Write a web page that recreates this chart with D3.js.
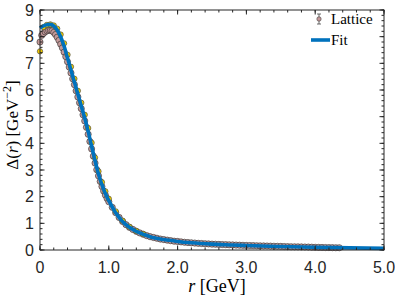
<!DOCTYPE html>
<html><head><meta charset="utf-8">
<script src="https://cdn.jsdelivr.net/npm/d3@7"></script>
<style>body{margin:0;background:#fff}svg{display:block}</style>
</head><body>
<script>
// ---- data ----
const xTicks = [0, 1, 2, 3, 4, 5];
const xTickLabels = ["0", "1.0", "2.0", "3.0", "4.0", "5.0"];
const yTicks = [0, 1, 2, 3, 4, 5, 6, 7, 8, 9];
const legendLabels = ["Lattice", "Fit"];

// lattice points [r, value, error]
const latticeA = [
 [0.000,7.80,0.12],[0.025,8.05,0.10],[0.050,8.12,0.10],[0.075,8.18,0.09],[0.100,8.22,0.09],
 [0.125,8.24,0.08],[0.150,8.24,0.08],[0.175,8.22,0.08],[0.200,8.16,0.08],[0.225,8.08,0.07],
 [0.250,7.98,0.07],[0.275,7.86,0.07],[0.300,7.72,0.07],[0.325,7.58,0.06],[0.350,7.42,0.06],
 [0.375,7.25,0.06],[0.400,7.06,0.06],[0.425,6.86,0.06],[0.450,6.64,0.05],[0.475,6.42,0.05],
 [0.500,6.20,0.05],[0.525,5.97,0.05],[0.550,5.74,0.05],[0.575,5.52,0.05],[0.600,5.30,0.05],
 [0.625,5.07,0.04],[0.650,4.84,0.04],[0.675,4.60,0.04],[0.700,4.34,0.04],[0.725,4.07,0.04],
 [0.750,3.79,0.04],[0.775,3.52,0.04],[0.800,3.26,0.03],[0.825,3.01,0.03],[0.850,2.78,0.03],
 [0.875,2.57,0.03],[0.900,2.38,0.03],[0.925,2.21,0.03],[0.950,2.06,0.03],[0.975,1.93,0.03],
 [1.000,1.81,0.03],[1.050,1.60,0.03],[1.100,1.40,0.03],[1.150,1.22,0.03],[1.200,1.07,0.03],
 [1.250,0.95,0.03],[1.300,0.85,0.03],[1.350,0.77,0.03],[1.400,0.70,0.03],[1.450,0.64,0.03],
 [1.500,0.59,0.03],[1.550,0.54,0.03],[1.600,0.50,0.03],[1.650,0.47,0.03],[1.700,0.44,0.03],
 [1.750,0.41,0.03],[1.800,0.39,0.03],[1.850,0.37,0.03],[1.900,0.35,0.03],[1.950,0.33,0.03],
 [2.000,0.32,0.03],[2.050,0.305,0.03],[2.100,0.29,0.03],[2.150,0.28,0.03],[2.200,0.27,0.03],
 [2.250,0.26,0.03],[2.300,0.25,0.03],[2.350,0.243,0.03],[2.400,0.235,0.03],[2.450,0.228,0.03],
 [2.500,0.22,0.03],[2.550,0.215,0.03],[2.600,0.21,0.03],[2.650,0.205,0.03],[2.700,0.20,0.03],
 [2.750,0.195,0.03],[2.800,0.19,0.03],[2.850,0.185,0.03],[2.900,0.18,0.03],[2.950,0.175,0.03],
 [3.000,0.17,0.03],[3.050,0.168,0.03],[3.100,0.165,0.03],[3.150,0.16,0.03],[3.200,0.155,0.03],
 [3.250,0.152,0.03],[3.300,0.15,0.03],[3.350,0.145,0.03],[3.400,0.14,0.03],[3.450,0.138,0.03],
 [3.500,0.135,0.03],[3.550,0.13,0.03],[3.600,0.125,0.03],[3.650,0.122,0.03],[3.700,0.12,0.03],
 [3.750,0.118,0.03],[3.800,0.115,0.03],[3.850,0.112,0.03],[3.900,0.11,0.03],[3.950,0.105,0.03],
 [4.000,0.10,0.03],[4.050,0.098,0.03],[4.100,0.095,0.03],[4.150,0.092,0.03],[4.200,0.09,0.03],
 [4.250,0.088,0.03],[4.300,0.085,0.03],[4.350,0.085,0.03]
];
// second lattice set (yellow)
const latticeB = [
 [0.00,7.45],[0.05,8.36],[0.10,8.44],[0.15,8.46],[0.20,8.42],[0.25,8.30],[0.30,8.08],
 [0.35,7.75],[0.40,7.32],[0.45,6.87],[0.50,6.42],[0.55,5.97],[0.60,5.52],[0.65,5.07],
 [0.70,4.57],[0.75,4.02],[0.80,3.46],[0.85,2.95],[0.90,2.54],[0.95,2.20],[1.00,1.92],
 [1.10,1.45],[1.20,1.10],[1.30,0.87],[1.40,0.71],[1.50,0.60]
];
// fit curve samples
const fitR = [0,0.05,0.1,0.15,0.2,0.25,0.3,0.35,0.4,0.45,0.5,0.55,0.6,0.65,0.7,0.75,0.8,0.85,0.9,0.95,1.0,1.1,1.2,1.3,1.4,1.5,1.6,1.8,2.0,2.2,2.5,2.8,3.0,3.5,4.0,4.5,5.0];
const fitV = [8.32,8.40,8.45,8.46,8.40,8.25,8.00,7.65,7.20,6.75,6.30,5.85,5.40,4.95,4.45,3.90,3.35,2.85,2.45,2.12,1.85,1.40,1.07,0.85,0.70,0.59,0.50,0.39,0.32,0.27,0.22,0.19,0.17,0.13,0.10,0.08,0.06];

// ---- drawing ----
const W = 395, H = 299;
const L = 40, R = 384, T = 10, B = 250;
const svg = d3.select("body").append("svg").attr("width", W).attr("height", H);
const x = d3.scaleLinear().domain([0, 5]).range([L, R]);
const y = d3.scaleLinear().domain([0, 9]).range([B, T]);
const txt = "#262626";

// error bars + markers (set A)
const gA = svg.append("g");
gA.selectAll("line.eb").data(latticeA).join("line")
  .attr("x1", d => x(d[0])).attr("x2", d => x(d[0]))
  .attr("y1", d => y(d[1] - d[2])).attr("y2", d => y(d[1] + d[2]))
  .attr("stroke", "#444").attr("stroke-width", 0.8);
gA.selectAll("circle").data(latticeA).join("circle")
  .attr("cx", d => x(d[0])).attr("cy", d => y(d[1])).attr("r", 3.1)
  .attr("fill", "#c49a9a").attr("stroke", "#2a2a2a").attr("stroke-width", 0.6);

const gB = svg.append("g");
gB.selectAll("circle").data(latticeB).join("circle")
  .attr("cx", d => x(d[0])).attr("cy", d => y(d[1])).attr("r", 2.7)
  .attr("fill", "#f2cc00").attr("stroke", "#3a3a3a").attr("stroke-width", 0.6);

// fit line
const line = d3.line().x(d => x(d[0])).y(d => y(d[1])).curve(d3.curveMonotoneX);
svg.append("path").datum(fitR.map((r, i) => [r, fitV[i]]))
  .attr("d", line).attr("fill", "none").attr("stroke", "#0072BD").attr("stroke-width", 3.6);

// axes box
const ax = svg.append("g");
ax.append("rect").attr("x", L).attr("y", T).attr("width", R - L).attr("height", B - T)
  .attr("fill", "none").attr("stroke", "#262626").attr("stroke-width", 1);

// minor + major ticks (inward, all four sides)
const xMinor = d3.range(0, 5.001, 0.2);
const yMinor = d3.range(0, 9.001, 0.2);
function tickSet(vals, len, isX) {
  vals.forEach(v => {
    if (isX) {
      const px = x(v);
      ax.append("line").attr("x1", px).attr("x2", px).attr("y1", B).attr("y2", B - len).attr("stroke", txt);
      ax.append("line").attr("x1", px).attr("x2", px).attr("y1", T).attr("y2", T + len).attr("stroke", txt);
    } else {
      const py = y(v);
      ax.append("line").attr("y1", py).attr("y2", py).attr("x1", L).attr("x2", L + len).attr("stroke", txt);
      ax.append("line").attr("y1", py).attr("y2", py).attr("x1", R).attr("x2", R - len).attr("stroke", txt);
    }
  });
}
tickSet(xMinor, 2.5, true);
tickSet(yMinor, 2.5, false);
tickSet(xTicks, 4.5, true);
tickSet(yTicks, 4.5, false);

// tick labels
const sans = "'Liberation Sans', Arial, sans-serif";
svg.append("g").selectAll("text").data(xTicks).join("text")
  .attr("x", d => x(d)).attr("y", B + 23).attr("text-anchor", "middle")
  .attr("font-family", sans).attr("font-size", 16).attr("fill", txt)
  .text((d, i) => xTickLabels[i]);
svg.append("g").selectAll("text").data(yTicks).join("text")
  .attr("x", L - 6).attr("y", d => y(d)).attr("dy", "0.36em").attr("text-anchor", "end")
  .attr("font-family", sans).attr("font-size", 16).attr("fill", txt)
  .text(d => d);

// axis titles (LaTeX-like serif)
const serif = "'Liberation Serif', 'DejaVu Serif', serif";
const xt = svg.append("text").attr("x", 217).attr("y", 292).attr("text-anchor", "middle")
  .attr("font-family", serif).attr("font-size", 18).attr("fill", "#000");
xt.append("tspan").attr("font-style", "italic").text("r");
xt.append("tspan").text(" [GeV]");

const yt = svg.append("text").attr("transform", `translate(18,125) rotate(-90)`)
  .attr("text-anchor", "middle").attr("font-family", serif).attr("font-size", 17).attr("fill", "#000");
yt.append("tspan").text("Δ(");
yt.append("tspan").attr("font-style", "italic").text("r");
yt.append("tspan").text(") [GeV");
yt.append("tspan").attr("font-size", 12).attr("dy", -7).text("−2");
yt.append("tspan").attr("dy", 7).text("]");

// legend
const lg = svg.append("g");
const ly1 = 19, ly2 = 40;
lg.append("line").attr("x1", 319).attr("x2", 319).attr("y1", ly1 - 5).attr("y2", ly1 + 5).attr("stroke", "#444").attr("stroke-width", 0.8);
lg.append("line").attr("x1", 317).attr("x2", 321).attr("y1", ly1 - 5).attr("y2", ly1 - 5).attr("stroke", "#444").attr("stroke-width", 0.8);
lg.append("line").attr("x1", 317).attr("x2", 321).attr("y1", ly1 + 5).attr("y2", ly1 + 5).attr("stroke", "#444").attr("stroke-width", 0.8);
lg.append("circle").attr("cx", 319).attr("cy", ly1).attr("r", 2.2).attr("fill", "#c49a9a").attr("stroke", "#2a2a2a").attr("stroke-width", 0.5);
lg.append("line").attr("x1", 311).attr("x2", 330).attr("y1", ly2).attr("y2", ly2).attr("stroke", "#0072BD").attr("stroke-width", 3.6);
lg.selectAll("text").data(legendLabels).join("text")
  .attr("x", 331).attr("y", (d, i) => i === 0 ? ly1 : ly2).attr("dy", "0.35em")
  .attr("font-family", serif).attr("font-size", 15).attr("fill", "#000").text(d => d);
</script>
</body></html>
